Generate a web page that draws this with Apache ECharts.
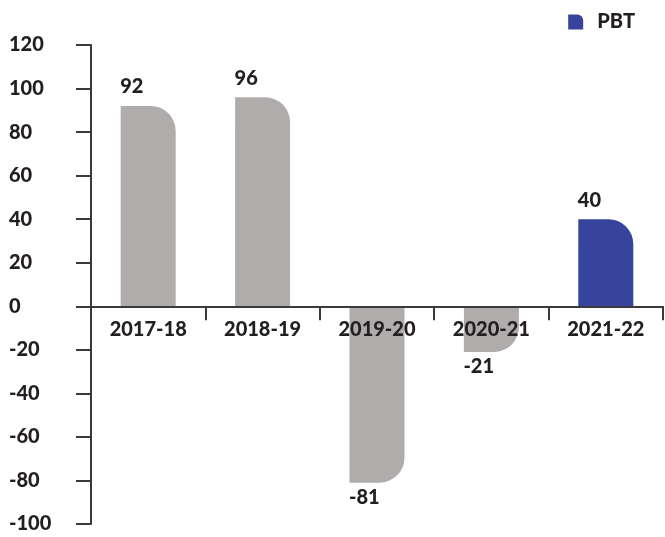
<!DOCTYPE html>
<html>
<head>
<meta charset="utf-8">
<script src="https://cdn.jsdelivr.net/npm/echarts@6/dist/echarts.min.js"></script>
<style>
  html, body { margin: 0; padding: 0; background: #fff; }
  #main { width: 665px; height: 537px; }
</style>
</head>
<body>
<div id="main"></div>
<script>
// 年份和 PBT 数值
const years = ['2017-18', '2018-19', '2019-20', '2020-21', '2021-22']
const pbt = [92, 96, -81, -21, 40]
const yMin = -100
const yMax = 120
const grey = '#b0acab'
const blue = '#36449c'
const ink = '#231f20'
const font = 'Lato, "Noto Sans", sans-serif'
const weight = 900

var myChart = echarts.init(document.getElementById('main'))

// 网格上下边距，x 轴要放在 0 的位置上（标签也要跟着轴走）
const gridTop = 45
const gridBottom = 13
const gridH = 537 - gridTop - gridBottom
const zeroOffset = -gridH * (0 - yMin) / (yMax - yMin)

// 正值圆角在右上，负值圆角在右下；最后一年用蓝色
let items = pbt.map(function (v, i) {
    let pos = v >= 0
    return {
        value: v,
        itemStyle: {
            color: i === pbt.length - 1 ? blue : grey,
            borderRadius: pos ? [0, 25, 0, 0] : [0, 0, 25, 0]
        },
        label: {
            position: pos ? 'top' : 'bottom',
            distance: pos ? 9 : 5,
            align: 'left',
            offset: [-28, 0]
        }
    }
})

var option = {
    animation: false,
    legend: {
        data: ['PBT'],
        right: 25,
        top: 7,
        itemWidth: 15,
        itemHeight: 15,
        icon: 'path://M0,0 H9 A6,6 0 0 1 15,6 V15 H0 Z',
        textStyle: { fontFamily: font, fontWeight: weight, fontSize: 20, color: ink, padding: [0, 0, 0, 9] }
    },
    grid: { left: 91, right: 2, top: gridTop, bottom: gridBottom, containLabel: false },
    xAxis: {
        type: 'category',
        data: years,
        z: 10,
        offset: zeroOffset,
        axisLine: { onZero: false, lineStyle: { color: '#3a3a3a', width: 2 } },
        axisTick: { show: true, length: 14, lineStyle: { color: '#3a3a3a', width: 2 } },
        axisLabel: { margin: 13, fontFamily: font, fontWeight: weight, fontSize: 20, color: ink }
    },
    yAxis: {
        type: 'value',
        min: yMin,
        max: yMax,
        interval: 20,
        splitLine: { show: false },
        axisLine: { show: true, lineStyle: { color: '#3a3a3a', width: 2 } },
        axisTick: { show: true, length: 15, lineStyle: { color: '#3a3a3a', width: 2 } },
        axisLabel: { margin: 82, align: 'left', fontFamily: font, fontWeight: weight, fontSize: 20, color: ink }
    },
    series: [
        {
            name: 'PBT',
            type: 'bar',
            barWidth: 55,
            itemStyle: { color: blue },
            label: {
                show: true,
                fontFamily: font,
                fontWeight: weight,
                fontSize: 20,
                color: ink
            },
            data: items
        }
    ]
}

myChart.setOption(option)
window.addEventListener('resize', myChart.resize)
</script>
</body>
</html>
